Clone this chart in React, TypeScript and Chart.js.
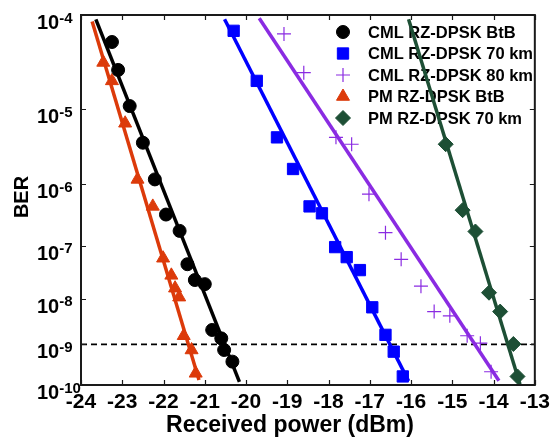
import React, { useEffect, useRef } from 'react';
import { Chart, registerables, LinearScale } from 'chart.js';
import { drawPoint } from 'chart.js/helpers';

// ---------- Data (x: received power in dBm, y: log10(BER)) ----------
const xTicks = [-24, -23, -22, -21, -20, -19, -18, -17, -16, -15, -14, -13];
const berExponents = [-4, -5, -6, -7, -8, -9, -10];

const seriesLabels = [
  'CML RZ-DPSK BtB',
  'CML RZ-DPSK 70 km',
  'CML RZ-DPSK 80 km',
  'PM RZ-DPSK BtB',
  'PM RZ-DPSK 70 km',
];

const cmlBtbPower = [-23.25, -23.1, -22.82, -22.5, -22.21, -21.94, -21.61, -21.42, -21.24, -21.0, -20.82, -20.6, -20.53, -20.33];
const cmlBtbLogBer = [-4.26, -4.55, -4.96, -5.42, -5.93, -6.47, -6.74, -7.33, -7.63, -7.71, -8.67, -8.86, -9.13, -9.41];

const cml70Power = [-20.3, -19.74, -19.25, -18.86, -18.46, -18.16, -17.84, -17.56, -17.24, -16.94, -16.62, -16.42, -16.2];
const cml70LogBer = [-4.15, -4.67, -5.35, -5.78, -6.34, -6.45, -7.02, -7.2, -7.44, -8.18, -8.78, -9.17, -9.78];

const cml80Power = [-19.08, -18.6, -17.82, -17.44, -17.02, -16.62, -16.24, -15.76, -15.44, -15.06, -14.64, -14.32, -14.06];
const cml80LogBer = [-4.18, -4.58, -5.35, -5.44, -6.15, -6.77, -7.24, -7.75, -8.27, -8.36, -8.8, -8.97, -9.66];

const pmBtbPower = [-23.46, -23.25, -22.93, -22.63, -22.26, -22.01, -21.81, -21.72, -21.62, -21.51, -21.32, -21.22];
const pmBtbLogBer = [-4.47, -4.67, -5.17, -5.93, -6.34, -7.22, -7.54, -7.79, -7.97, -8.8, -9.13, -9.7];

const pm70Power = [-15.16, -14.75, -14.44, -14.11, -13.84, -13.52, -13.42];
const pm70LogBer = [-5.44, -6.4, -6.75, -7.88, -8.27, -8.99, -9.78];

// Linear fits (end points)
const cmlBtbFitPower = [-23.64, -20.16];
const cmlBtbFitLogBer = [-4.04, -9.92];
const cml70FitPower = [-20.52, -16.06];
const cml70FitLogBer = [-4.04, -9.9];
const cml80FitPower = [-19.68, -13.87];
const cml80FitLogBer = [-4.03, -9.89];
const pmBtbFitPower = [-23.73, -21.14];
const pmBtbFitLogBer = [-4.06, -9.87];
const pm70FitPower = [-16.06, -13.36];
const pm70FitLogBer = [-4.04, -9.98];

const thresholdPower = [-24, -13];
const thresholdLogBer = [-9, -9];

// ---------- BER (Q-factor) scale ----------
function normInv(p: number): number {
  const a = [-3.969683028665376e1, 2.209460984245205e2, -2.759285104469687e2, 1.38357751867269e2, -3.066479806614716e1, 2.506628277459239];
  const b = [-5.447609879822406e1, 1.615858368580409e2, -1.556989798598866e2, 6.680131188771972e1, -1.328068155288572e1];
  const c = [-7.784894002430293e-3, -3.223964580411365e-1, -2.400758277161838, -2.549732539343734, 4.374664141464968, 2.938163982698783];
  const d = [7.784695709041462e-3, 3.224671290700398e-1, 2.445134137142996, 3.754408661907416];
  const plow = 0.02425;
  if (p < plow) {
    const q = Math.sqrt(-2 * Math.log(p));
    return (((((c[0] * q + c[1]) * q + c[2]) * q + c[3]) * q + c[4]) * q + c[5]) /
      ((((d[0] * q + d[1]) * q + d[2]) * q + d[3]) * q + 1);
  }
  if (p <= 1 - plow) {
    const q = p - 0.5;
    const r = q * q;
    return (((((a[0] * r + a[1]) * r + a[2]) * r + a[3]) * r + a[4]) * r + a[5]) * q /
      (((((b[0] * r + b[1]) * r + b[2]) * r + b[3]) * r + b[4]) * r + 1);
  }
  const q = Math.sqrt(-2 * Math.log(1 - p));
  return -(((((c[0] * q + c[1]) * q + c[2]) * q + c[3]) * q + c[4]) * q + c[5]) /
    ((((d[0] * q + d[1]) * q + d[2]) * q + d[3]) * q + 1);
}

function erfc(x: number): number {
  const z = Math.abs(x);
  const t = 1 / (1 + 0.5 * z);
  const r = t * Math.exp(-z * z - 1.26551223 + t * (1.00002368 + t * (0.37409196 + t * (0.09678418 +
    t * (-0.18628806 + t * (0.27886807 + t * (-1.13520398 + t * (1.48851587 + t * (-0.82215223 + t * 0.17087277)))))))));
  return x >= 0 ? r : 2 - r;
}

// value = log10(BER) -> log10(Q)
function logQ(v: number): number {
  const ber = Math.pow(10, v);
  return Math.log10(-normInv(ber));
}

class BerScale extends LinearScale {
  static id = 'berq';
  determineDataLimits() {
    const o: any = this.options;
    this.min = o.min ?? -10;
    this.max = o.max ?? -4;
  }
  buildTicks() {
    const ticks: any[] = [];
    for (let e = Math.round(this.max); e >= Math.round(this.min); e--) ticks.push({ value: e });
    return ticks;
  }
  getPixelForValue(value: number) {
    const tBot = logQ(this.min);
    const tTop = logQ(this.max);
    return this.getPixelForDecimal((tBot - logQ(value)) / (tBot - tTop));
  }
  getValueForPixel(pixel: number) {
    const tBot = logQ(this.min);
    const tTop = logQ(this.max);
    const dec = this.getDecimalForPixel(pixel);
    const q = Math.pow(10, tBot - dec * (tBot - tTop));
    return Math.log10(0.5 * erfc(q / Math.SQRT2));
  }
}

Chart.register(...registerables, BerScale);

// ---------- Styling ----------
const FONT = "'Liberation Sans', Arial, Helvetica, sans-serif";
const colors = ['#000000', '#0000FF', '#8A2BE2', '#DC3A0A', '#1D4F35'];
const styles = ['circle', 'rect', 'cross', 'triangle', 'rectRot'];
const radii = [6.5, 8, 7, 7.5, 7.5];

const zip = (xs: number[], ys: number[]) => xs.map((x, i) => ({ x, y: ys[i] }));

const markerSets = [
  [cmlBtbPower, cmlBtbLogBer],
  [cml70Power, cml70LogBer],
  [cml80Power, cml80LogBer],
  [pmBtbPower, pmBtbLogBer],
  [pm70Power, pm70LogBer],
];
const fitSets = [
  [cmlBtbFitPower, cmlBtbFitLogBer],
  [cml70FitPower, cml70FitLogBer],
  [cml80FitPower, cml80FitLogBer],
  [pmBtbFitPower, pmBtbFitLogBer],
  [pm70FitPower, pm70FitLogBer],
];

const framePlugin = {
  id: 'frame',
  beforeDatasetsDraw(chart: any) {
    const { ctx } = chart;
    ctx.save();
    const rowY = [32, 53.5, 75, 96.5, 118];
    seriesLabels.forEach((label, i) => {
      const isCross = styles[i] === 'cross';
      ctx.fillStyle = colors[i];
      ctx.strokeStyle = colors[i];
      ctx.lineWidth = isCross ? 1.2 : 1;
      drawPoint(ctx, { pointStyle: styles[i], radius: radii[i], rotation: 0, borderWidth: isCross ? 1.2 : 1 } as any, 343, rowY[i]);
      ctx.fillStyle = '#000';
      ctx.font = `bold 16.5px ${FONT}`;
      ctx.textAlign = 'left';
      ctx.textBaseline = 'middle';
      ctx.fillText(label, 368, rowY[i] + 1);
    });
    ctx.restore();
  },
  afterDraw(chart: any) {
    const { ctx, chartArea, scales } = chart;
    const { left, right, top, bottom } = chartArea;
    const xs = scales.x;
    const ys = scales.y;
    ctx.save();
    ctx.strokeStyle = '#1a1a1a';
    ctx.lineWidth = 2;
    ctx.strokeRect(left, top, right - left, bottom - top);
    ctx.lineWidth = 1.2;
    ctx.beginPath();
    xTicks.forEach((v) => {
      const px = Math.round(xs.getPixelForValue(v)) + 0.5;
      ctx.moveTo(px, bottom);
      ctx.lineTo(px, bottom - 5);
      ctx.moveTo(px, top);
      ctx.lineTo(px, top + 5);
    });
    berExponents.forEach((e) => {
      const py = Math.round(ys.getPixelForValue(e)) + 0.5;
      ctx.moveTo(left, py);
      ctx.lineTo(left + 5, py);
      ctx.moveTo(right, py);
      ctx.lineTo(right - 5, py);
    });
    ctx.stroke();

    // y tick labels 10^n
    ctx.fillStyle = '#000';
    ctx.textAlign = 'left';
    ctx.textBaseline = 'alphabetic';
    berExponents.forEach((e) => {
      const py = ys.getPixelForValue(e);
      ctx.font = `bold 20px ${FONT}`;
      const base = '10';
      ctx.fillText(base, 37, py + 14);
      const w = ctx.measureText(base).width;
      ctx.font = `bold 15px ${FONT}`;
      ctx.fillText(String(e), 37 + w, py + 7.5);
    });

    // axis titles
    ctx.font = `bold 20px ${FONT}`;
    ctx.textAlign = 'center';
    ctx.textBaseline = 'middle';
    ctx.save();
    ctx.translate(22, 197);
    ctx.rotate(-Math.PI / 2);
    ctx.fillText('BER', 0, 0);
    ctx.restore();
    ctx.font = `bold 23px ${FONT}`;
    ctx.fillText('Received power (dBm)', 290, 426);
    ctx.restore();
  },
};

export default function App() {
  const ref = useRef<HTMLCanvasElement>(null);
  useEffect(() => {
    if (!ref.current) return;
    const datasets: any[] = [];
    datasets.push({
      label: 'BER 1e-9',
      data: zip(thresholdPower, thresholdLogBer),
      showLine: true,
      borderColor: '#000',
      borderWidth: 1.7,
      borderDash: [6, 4],
      pointRadius: 0,
      order: 20,
    });
    fitSets.forEach(([px, py], i) => {
      datasets.push({
        label: seriesLabels[i] + ' fit',
        data: zip(px, py),
        showLine: true,
        borderColor: colors[i],
        borderWidth: 3.5,
        pointRadius: 0,
        order: 10,
      });
    });
    markerSets.forEach(([px, py], i) => {
      const isCross = styles[i] === 'cross';
      datasets.push({
        label: seriesLabels[i],
        data: zip(px, py),
        showLine: false,
        pointStyle: styles[i],
        pointRadius: radii[i],
        pointBackgroundColor: colors[i],
        pointBorderColor: colors[i],
        pointBorderWidth: isCross ? 1.2 : 1,
        order: 1,
      });
    });

    const chart = new Chart(ref.current, {
      type: 'scatter',
      data: { datasets },
      plugins: [framePlugin],
      options: {
        responsive: false,
        animation: false,
        devicePixelRatio: 1,
        layout: { padding: { top: 15, right: 16, left: 0, bottom: 0 } },
        plugins: { legend: { display: false }, tooltip: { enabled: false } },
        scales: {
          x: {
            type: 'linear',
            min: -24,
            max: -13,
            afterBuildTicks: (s: any) => {
              s.ticks = xTicks.map((v) => ({ value: v }));
            },
            afterFit: (s: any) => {
              s.height = 57;
            },
            grid: { display: false, drawTicks: false },
            border: { display: false },
            ticks: {
              color: '#000',
              padding: 5,
              maxRotation: 0,
              font: { family: FONT, size: 21, weight: 'bold' },
              callback: (v: any) => String(v),
            },
          },
          y: {
            type: 'berq',
            min: -10,
            max: -4,
            afterFit: (s: any) => {
              s.width = 81;
            },
            grid: { display: false, drawTicks: false },
            border: { display: false },
            ticks: { display: false },
          } as any,
        },
      } as any,
    });
    return () => chart.destroy();
  }, []);

  return (
    <div style={{ position: 'fixed', left: 0, top: 0, width: 555, height: 442, background: '#fff' }}>
      <canvas ref={ref} width={555} height={442} style={{ display: 'block' }} />
    </div>
  );
}
